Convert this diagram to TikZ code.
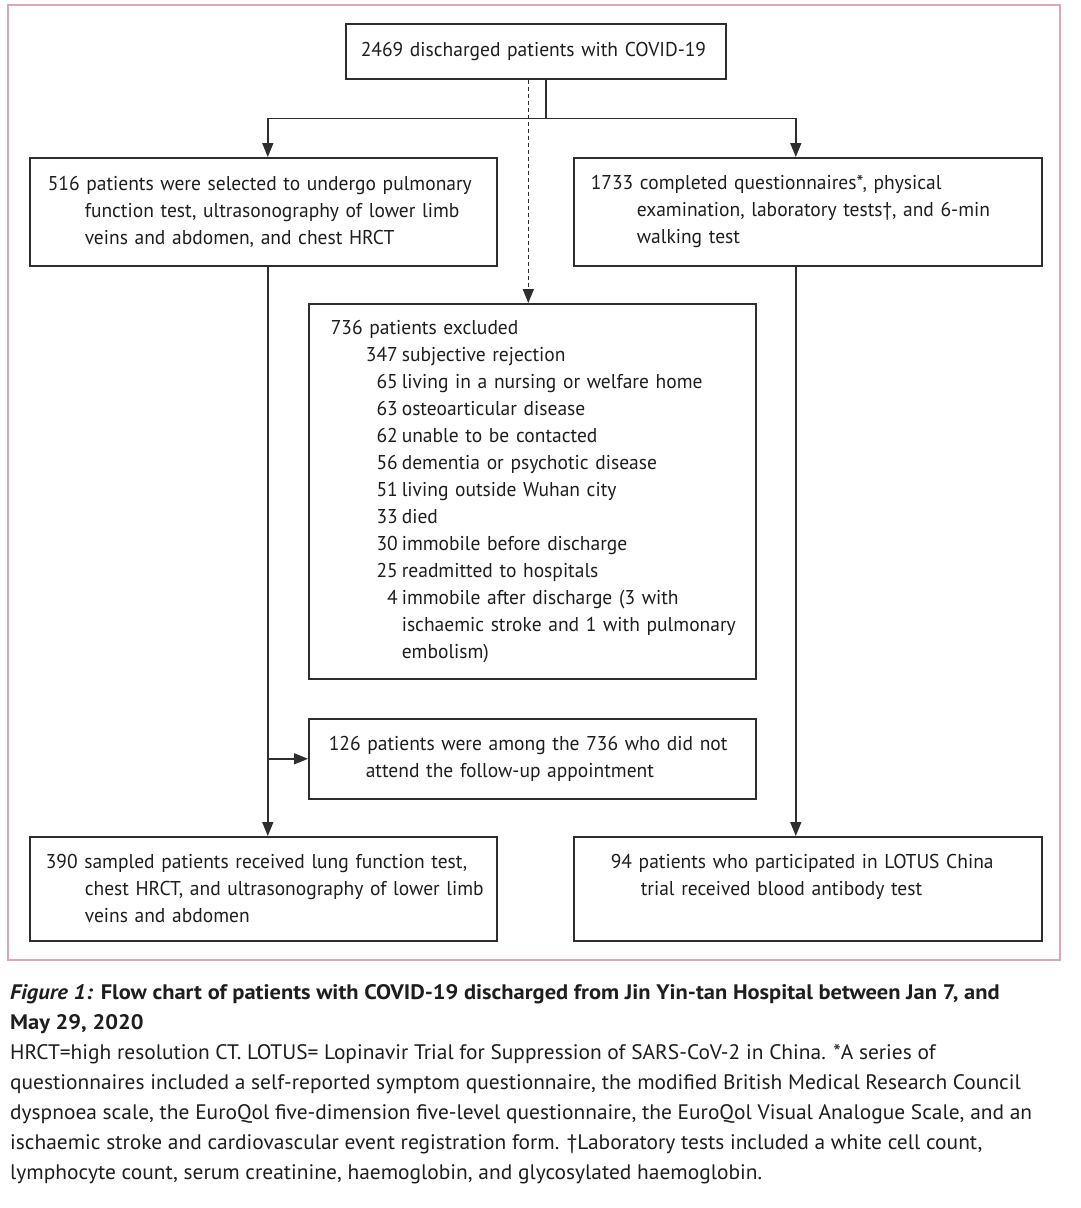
\documentclass[tikz,border=0pt]{standalone}
\usepackage{fontspec}
\setmainfont{PT Sans}[FakeStretch=0.975]
\newfontfamily\capfont{PT Sans}[FakeStretch=1.02]
\newfontfamily\capbfont{PT Sans}[FakeStretch=1.07]
\usetikzlibrary{arrows.meta,calc}
\definecolor{framec}{HTML}{D9A7B5}
\definecolor{linec}{HTML}{2E2E2E}
\definecolor{txtc}{HTML}{1E1E1E}
\newcommand{\Ln}[1]{\mbox{#1}}
\newcommand{\It}[2]{\mbox{\makebox[67pt][r]{#1}\hspace{4pt}#2}}
\begin{document}
\begin{tikzpicture}[x=1pt,y=-1pt,
  box/.style={draw=linec,line width=1.6pt,rectangle,anchor=north west,inner ysep=0pt,
    align=left,text=txtc,font=\fontsize{20}{27}\selectfont},
  arr/.style={draw=linec,line width=1.6pt,-{Triangle[length=14pt,width=11pt]}},
  con/.style={draw=linec,line width=1.6pt}]
\useasboundingbox (0,0) rectangle (1080,1208);
\fill[white] (0,0) rectangle (1080,1208);
\draw[framec,line width=1.2pt] (8,5) rectangle (1060,960);
% boxes
\node[box,inner xsep=15pt,text width=350pt,minimum width=380pt,minimum height=55pt] (top) at (345,23)
  {\Ln{2469 discharged patients with COVID-19}};
\node[box,inner xsep=18pt,text width=431pt,minimum width=467pt,minimum height=108pt] (left1) at (29,157)
  {\Ln{516 patients were selected to undergo pulmonary}\\
   \Ln{\hspace*{37pt}function test, ultrasonography of lower limb}\\
   \Ln{\hspace*{37pt}veins and abdomen, and chest HRCT}};
\node[box,inner xsep=17pt,text width=434pt,minimum width=468pt,minimum height=108pt] (right1) at (573,157)
  {\Ln{1733 completed questionnaires*, physical}\\
   \Ln{\hspace*{46pt}examination, laboratory tests†, and 6-min}\\
   \Ln{\hspace*{46pt}walking test}};
\node[box,inner xsep=22pt,text width=403pt,minimum width=447pt,minimum height=375pt] (excl) at (308,303)
  {\Ln{736 patients excluded}\\
   \It{347}{subjective rejection}\\
   \It{65}{living in a nursing or welfare home}\\
   \It{63}{osteoarticular disease}\\
   \It{62}{unable to be contacted}\\
   \It{56}{dementia or psychotic disease}\\
   \It{51}{living outside Wuhan city}\\
   \It{33}{died}\\
   \It{30}{immobile before discharge}\\
   \It{25}{readmitted to hospitals}\\
   \It{4}{immobile after discharge (3 with}\\
   \Ln{\hspace*{71pt}ischaemic stroke and 1 with pulmonary}\\
   \Ln{\hspace*{71pt}embolism)}};
\node[box,inner xsep=20pt,text width=407pt,minimum width=447pt,minimum height=80pt] (mid) at (308,718)
  {\Ln{126 patients were among the 736 who did not}\\
   \Ln{\hspace*{37pt}attend the follow-up appointment}};
\node[box,inner xsep=16pt,text width=435pt,minimum width=467pt,minimum height=104pt] (left2) at (29,836)
  {\Ln{390 sampled patients received lung function test,}\\
   \Ln{\hspace*{39pt}chest HRCT, and ultrasonography of lower limb}\\
   \Ln{\hspace*{39pt}veins and abdomen}};
\node[box,inner xsep=37pt,text width=394pt,minimum width=468pt,minimum height=104pt] (right2) at (573,836)
  {\Ln{94 patients who participated in LOTUS China}\\
   \Ln{\hspace*{30pt}trial received blood antibody test}\\ \mbox{}};
% connectors
\coordinate (j) at ($(top.south)+(10,39)$);
\draw[con] ([xshift=10pt]top.south) -- (j);
\draw[arr] (j) -| ([xshift=4.5pt]left1.north);
\draw[arr] (j) -| ([xshift=-12pt]right1.north);
\draw[arr,dash pattern=on 4pt off 3pt] ([xshift=-4pt]top.south -| excl.north) -- ([xshift=-4pt]excl.north);
\draw[arr] ([xshift=4.5pt]left1.south) -- ([xshift=4.5pt]left2.north);
\draw[arr] ([xshift=-12pt]right1.south) -- ([xshift=-12pt]right2.north);
\draw[arr] ([xshift=4.5pt]left1.south |- mid.west) -- (mid.west);
% caption
\node[anchor=north west,inner sep=0pt,align=left,text=txtc,font=\fontsize{21}{30}\selectfont] (cap) at (10,984)
  {\Ln{\capbfont\bfseries\textit{Figure 1:} Flow chart of patients with COVID-19 discharged from Jin Yin-tan Hospital between Jan 7, and}\\
   \Ln{\capbfont\bfseries May 29, 2020}\\
   \Ln{\capfont HRCT=high resolution CT. LOTUS= Lopinavir Trial for Suppression of SARS-CoV-2 in China. *A series of}\\
   \Ln{\capfont questionnaires included a self-reported symptom questionnaire, the modified British Medical Research Council}\\
   \Ln{\capfont dyspnoea scale, the EuroQol five-dimension five-level questionnaire, the EuroQol Visual Analogue Scale, and an}\\
   \Ln{\capfont ischaemic stroke and cardiovascular event registration form. †Laboratory tests included a white cell count,}\\
   \Ln{\capfont lymphocyte count, serum creatinine, haemoglobin, and glycosylated haemoglobin.}};
\end{tikzpicture}
\end{document}
